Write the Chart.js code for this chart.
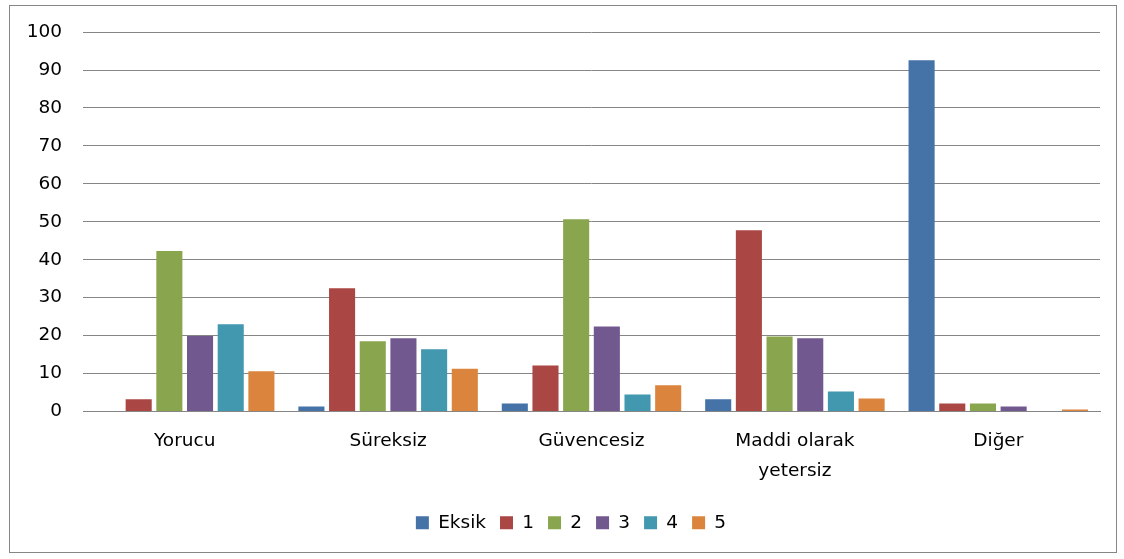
<!DOCTYPE html>
<html>
<head>
<meta charset="utf-8">
<script src="https://cdn.jsdelivr.net/npm/chart.js@4.4.1/dist/chart.umd.min.js"></script>
<style>
  html, body { margin: 0; padding: 0; background: #fff; }
  #wrap { width: 1124px; height: 559px; }
</style>
</head>
<body>
<div id="wrap"><canvas id="chart1" width="1124" height="559"></canvas></div>
<script>
var categories = ['Yorucu', 'Süreksiz', 'Güvencesiz', ['Maddi olarak', 'yetersiz'], 'Diğer'];
var seriesNames = ['Eksik', '1', '2', '3', '4', '5'];
var eksik = [0, 1.3, 2.1, 3.2, 92.6];
var s1 = [3.2, 32.5, 12.1, 47.8, 2.1];
var s2 = [42.3, 18.5, 50.7, 19.8, 2.1];
var s3 = [19.9, 19.3, 22.4, 19.3, 1.3];
var s4 = [23.0, 16.4, 4.5, 5.3, 0];
var s5 = [10.6, 11.3, 6.9, 3.4, 0.5];
var yTicks = [0, 10, 20, 30, 40, 50, 60, 70, 80, 90, 100];

var colors = ['#4572A7', '#AA4643', '#89A54E', '#71588F', '#4198AF', '#DB843D'];
var allSeries = [eksik, s1, s2, s3, s4, s5];

// outer frame like the spreadsheet chart border
var framePlugin = {
    id: 'frame',
    beforeDraw: function(chart) {
        var c = chart.ctx;
        c.save();
        c.fillStyle = '#fff';
        c.fillRect(0, 0, chart.width, chart.height);
        c.strokeStyle = '#868686';
        c.lineWidth = 1;
        c.strokeRect(9.5, 5.5, 1107, 547);
        c.restore();
    },
    // legend sits a bit right of centre in the original
    afterLayout: function(chart) {
        if (chart.legend) {
            chart.legend.left += 21;
            chart.legend.right += 21;
        }
    }
};

Chart.defaults.font.family = '"DejaVu Sans", sans-serif';
Chart.defaults.font.size = 18.5;
Chart.defaults.color = '#000';

var ctx = document.getElementById('chart1').getContext('2d');
var myChart = new Chart(ctx, {
    type: 'bar',
    data: {
        labels: categories,
        datasets: allSeries.map(function(d, i) {
            return {
                label: seriesNames[i],
                data: d,
                backgroundColor: colors[i],
                borderWidth: 0
            };
        })
    },
    options: {
        responsive: false,
        animation: false,
        barPercentage: 0.85,
        categoryPercentage: 0.905,
        layout: {
            padding: { top: 27, right: 24, bottom: 17, left: 0 }
        },
        plugins: {
            legend: {
                position: 'bottom',
                labels: {
                    boxWidth: 13,
                    boxHeight: 13,
                    padding: 14,
                    font: { size: 18.5 }
                }
            },
            tooltip: { enabled: false }
        },
        scales: {
            x: {
                grid: { display: false, drawTicks: false },
                border: { color: '#868686', width: 1 },
                ticks: { padding: 15, font: { size: 18.5, lineHeight: 1.6 } },
                afterFit: function(scale) { scale.height = 88; }
            },
            y: {
                min: 0,
                max: 100,
                afterBuildTicks: function(scale) {
                    scale.ticks = yTicks.map(function(v) { return { value: v }; });
                },
                grid: { color: '#868686', lineWidth: 1, drawTicks: false },
                border: { display: false },
                ticks: { padding: 21, font: { size: 18.5 } },
                afterFit: function(scale) { scale.width = 83; }
            }
        }
    },
    plugins: [framePlugin]
});
</script>
</body>
</html>
